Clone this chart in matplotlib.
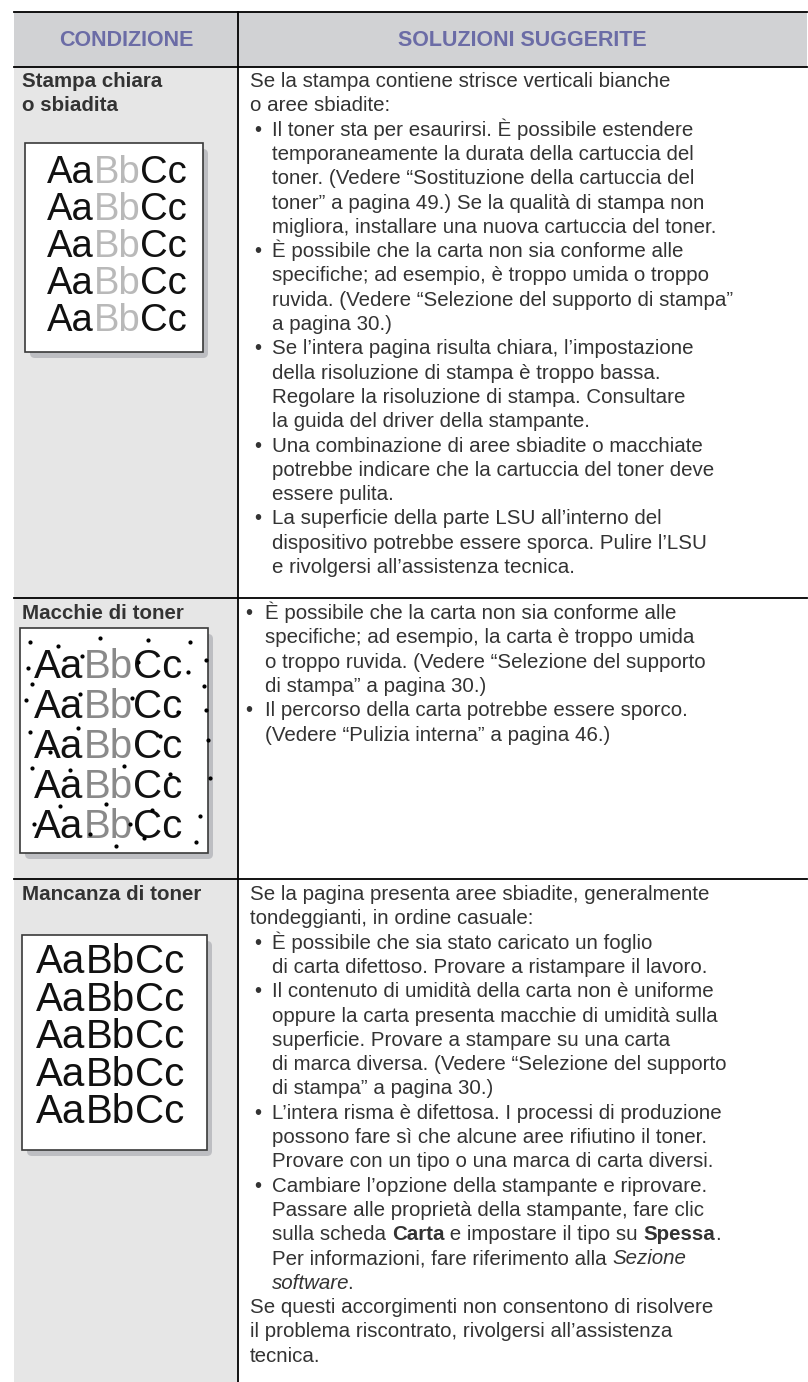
import re
import matplotlib
matplotlib.use('Agg')
import matplotlib.pyplot as plt
from matplotlib.patches import Rectangle, FancyBboxPatch

W, H = 808, 1382
FONT = ['Liberation Sans', 'DejaVu Sans']

header_labels = ['CONDIZIONE', 'SOLUZIONI SUGGERITE']
conditions = [['Stampa chiara', 'o sbiadita'], ['Macchie di toner'], ['Mancanza di toner']]

row1_lines = [
    ('p', 'Se la stampa contiene strisce verticali bianche'),
    ('p', 'o aree sbiadite:'),
    ('b', 'Il toner sta per esaurirsi. È possibile estendere'),
    ('c', 'temporaneamente la durata della cartuccia del'),
    ('c', 'toner. (Vedere “Sostituzione della cartuccia del'),
    ('c', 'toner” a pagina 49.) Se la qualità di stampa non'),
    ('c', 'migliora, installare una nuova cartuccia del toner.'),
    ('b', 'È possibile che la carta non sia conforme alle'),
    ('c', 'specifiche; ad esempio, è troppo umida o troppo'),
    ('c', 'ruvida. (Vedere “Selezione del supporto di stampa”'),
    ('c', 'a pagina 30.)'),
    ('b', 'Se l’intera pagina risulta chiara, l’impostazione'),
    ('c', 'della risoluzione di stampa è troppo bassa.'),
    ('c', 'Regolare la risoluzione di stampa. Consultare'),
    ('c', 'la guida del driver della stampante.'),
    ('b', 'Una combinazione di aree sbiadite o macchiate'),
    ('c', 'potrebbe indicare che la cartuccia del toner deve'),
    ('c', 'essere pulita.'),
    ('b', 'La superficie della parte LSU all’interno del'),
    ('c', 'dispositivo potrebbe essere sporca. Pulire l’LSU'),
    ('c', 'e rivolgersi all’assistenza tecnica.'),
]

row2_lines = [
    ('b', 'È possibile che la carta non sia conforme alle'),
    ('c', 'specifiche; ad esempio, la carta è troppo umida'),
    ('c', 'o troppo ruvida. (Vedere “Selezione del supporto'),
    ('c', 'di stampa” a pagina 30.)'),
    ('b', 'Il percorso della carta potrebbe essere sporco.'),
    ('c', '(Vedere “Pulizia interna” a pagina 46.)'),
]

row3_lines = [
    ('p', 'Se la pagina presenta aree sbiadite, generalmente'),
    ('p', 'tondeggianti, in ordine casuale:'),
    ('b', 'È possibile che sia stato caricato un foglio'),
    ('c', 'di carta difettoso. Provare a ristampare il lavoro.'),
    ('b', 'Il contenuto di umidità della carta non è uniforme'),
    ('c', 'oppure la carta presenta macchie di umidità sulla'),
    ('c', 'superficie. Provare a stampare su una carta'),
    ('c', 'di marca diversa. (Vedere “Selezione del supporto'),
    ('c', 'di stampa” a pagina 30.)'),
    ('b', 'L’intera risma è difettosa. I processi di produzione'),
    ('c', 'possono fare sì che alcune aree rifiutino il toner.'),
    ('c', 'Provare con un tipo o una marca di carta diversi.'),
    ('b', 'Cambiare l’opzione della stampante e riprovare.'),
    ('c', 'Passare alle proprietà della stampante, fare clic'),
    ('c', 'sulla scheda **Carta** e impostare il tipo su **Spessa**.'),
    ('c', 'Per informazioni, fare riferimento alla *Sezione*'),
    ('c', '*software*.'),
    ('p', 'Se questi accorgimenti non consentono di risolvere'),
    ('p', 'il problema riscontrato, rivolgersi all’assistenza'),
    ('p', 'tecnica.'),
]

sample_word = [('Aa', 'dark'), ('Bb', 'light'), ('Cc', 'dark')]
sample_colors = [
    {'dark': '#111111', 'light': '#b9b9b9'},
    {'dark': '#111111', 'light': '#8a8a8a'},
    {'dark': '#111111', 'light': '#111111'},
]
# toner spots on the second sample (box-local pixel offsets)
spot_dx = [10, 38, 80, 128, 170, 186, 8, 12, 62, 118, 184, 6, 60, 112, 186, 10, 58, 140, 188,
           12, 50, 104, 150, 190, 40, 86, 132, 180, 14, 70, 124, 176, 96, 30, 158, 168, 20, 110]
spot_dy = [14, 18, 10, 12, 14, 32, 40, 56, 28, 34, 58, 72, 66, 70, 82, 104, 100, 108, 112,
           140, 142, 138, 146, 150, 178, 176, 182, 188, 196, 206, 210, 214, 218, 124, 84, 44, 160, 196]

# ---------------------------------------------------------------- layout
X0, XDIV, XR = 14, 238, 807
Y_TOP, Y_HEAD = 12, 67
row_bounds = [67, 598, 879, 1382]
row_first_line = [80, 612, 893]
LINE = 24.3
BODY_SIZE = 14.8
TEXT_COL = '#333333'

fig = plt.figure(figsize=(W / 100, H / 100), dpi=100)
ax = fig.add_axes([0, 0, 1, 1])
ax.set_xlim(0, W)
ax.set_ylim(H, 0)
ax.axis('off')
renderer = fig.canvas.get_renderer()

# backgrounds
ax.add_patch(Rectangle((X0, Y_TOP), XR - X0, Y_HEAD - Y_TOP, facecolor='#d1d2d4', edgecolor='none'))
ax.add_patch(Rectangle((X0, Y_HEAD), XDIV - X0, H - Y_HEAD, facecolor='#e6e6e6', edgecolor='none'))

# rules
ax.plot([X0, XR], [Y_TOP, Y_TOP], color='black', lw=1.3)
for yb in row_bounds[:-1]:
    ax.plot([X0, XR], [yb, yb], color='black', lw=1.3)
ax.plot([XDIV, XDIV], [Y_TOP, H], color='black', lw=1.3)

# header
hy = (Y_TOP + Y_HEAD) / 2 + 1
ax.text((X0 + XDIV) / 2, hy, header_labels[0], ha='center', va='center', family=FONT,
        fontsize=15.5, fontweight='bold', color='#6b6ca6')
ax.text((XDIV + XR) / 2, hy, header_labels[1], ha='center', va='center', family=FONT,
        fontsize=15.5, fontweight='bold', color='#6b6ca6')

# condition labels
for cond, y0 in zip(conditions, row_first_line):
    for i, s in enumerate(cond):
        ax.text(22, y0 + i * LINE + 7, s, ha='left', va='baseline', family=FONT,
                fontsize=BODY_SIZE, fontweight='bold', color='#333333')


def draw_rich(x, y, s):
    parts = re.split(r'(\*\*.+?\*\*|\*.+?\*)', s)
    for p in parts:
        if not p:
            continue
        weight, style = 'normal', 'normal'
        trim = 0
        if p.startswith('**'):
            p, weight = p[2:-2], 'bold'
        elif p.startswith('*'):
            p, style, trim = p[1:-1], 'italic', 2
        t = ax.text(x, y, p, ha='left', va='baseline', family=FONT, fontsize=BODY_SIZE,
                    fontweight=weight, fontstyle=style, color=TEXT_COL)
        x += t.get_window_extent(renderer).width - trim


def draw_block(lines, y0, x_par, x_bul, x_txt):
    for i, (kind, s) in enumerate(lines):
        yb = y0 + i * LINE + 7
        if kind == 'p':
            draw_rich(x_par, yb, s)
        else:
            if kind == 'b':
                ax.text(x_bul, yb, '•', ha='left', va='baseline', family=FONT,
                        fontsize=BODY_SIZE, color=TEXT_COL)
            draw_rich(x_txt, yb, s)


draw_block(row1_lines, row_first_line[0], 250, 254, 272)
draw_block(row2_lines, row_first_line[1], 250, 245, 265)
draw_block(row3_lines, row_first_line[2], 250, 254, 272)

# sample boxes
boxes = [(25, 143, 178, 209), (20, 628, 188, 225), (22, 935, 185, 215)]
text_x = [47, 34, 36]
line_y0 = [173, 667, 962]
line_dy = [37, 40, 37.5]
sample_size = [27.5, 29, 29]
for k, (bx, by, bw, bh) in enumerate(boxes):
    ax.add_patch(FancyBboxPatch((bx + 5, by + 6), bw, bh, boxstyle='round,pad=0,rounding_size=5',
                                facecolor='#bdbec2', edgecolor='none', zorder=2))
    ax.add_patch(Rectangle((bx, by), bw, bh, facecolor='white', edgecolor='#3a3a3a', lw=1.2, zorder=3))
    for j in range(5):
        x = text_x[k]
        y = line_y0[k] + j * line_dy[k]
        for part, tone in sample_word:
            t = ax.text(x, y, part, ha='left', va='center', family=FONT, fontsize=sample_size[k],
                        color=sample_colors[k][tone], zorder=4)
            x += t.get_window_extent(renderer).width
    if k == 1:
        ax.scatter([bx + d for d in spot_dx], [by + d for d in spot_dy], s=4, color='black', zorder=5)

fig.savefig('out.png', dpi=100)
